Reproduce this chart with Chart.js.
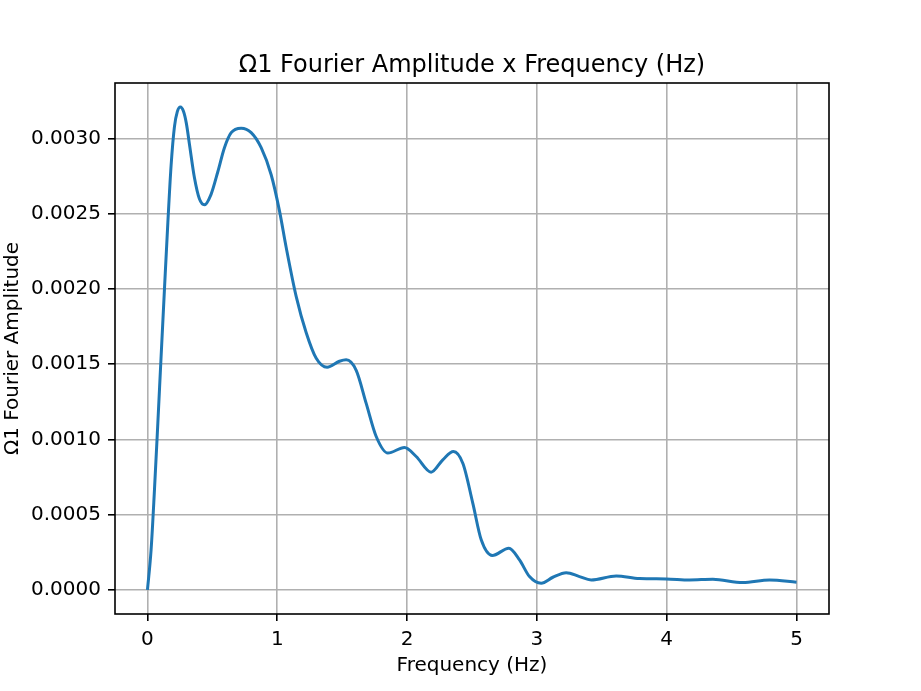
<!DOCTYPE html>
<html>
<head>
<meta charset="utf-8">
<script src="https://cdn.jsdelivr.net/npm/chart.js@4"></script>
<style>
  html, body { margin: 0; padding: 0; background: #fff; }
  #wrap { width: 921px; height: 691px; }
</style>
</head>
<body>
<div id="wrap"><canvas id="myChart" width="921" height="691"></canvas></div>
<script>
// frequency (Hz) and amplitude
const freqs = [0, 0.028, 0.054, 0.08, 0.105, 0.131, 0.157, 0.182, 0.208, 0.23, 0.254, 0.278, 0.3, 0.324,
  0.362, 0.4, 0.439, 0.49, 0.542, 0.593, 0.645, 0.722, 0.799, 0.876, 0.953, 1.017, 1.068, 1.146, 1.223,
  1.3, 1.384, 1.479, 1.531, 1.608, 1.685, 1.762, 1.852, 1.98, 2.07, 2.185, 2.275, 2.357, 2.43, 2.506,
  2.571, 2.656, 2.784, 2.866, 2.943, 3.033, 3.123, 3.226, 3.328, 3.418, 3.611, 3.79, 3.996, 4.176,
  4.355, 4.586, 4.792, 5.0]
const amps = [0, 0.000266, 0.000665, 0.00111, 0.00155, 0.002, 0.00244, 0.00282, 0.00308, 0.00318, 0.00321,
  0.00318, 0.0031, 0.00296, 0.00274, 0.0026, 0.00256, 0.00263, 0.00278, 0.00294, 0.00304, 0.00307,
  0.00304, 0.00294, 0.00276, 0.00252, 0.00228, 0.00195, 0.00171, 0.00154, 0.00148, 0.00152, 0.00153,
  0.00146, 0.00124, 0.00102, 0.00091, 0.000947, 0.000887, 0.000783, 0.000865, 0.00092, 0.00084,
  0.000577, 0.000333, 0.000229, 0.000277, 0.0002, 0.0000887, 0.0000443, 0.0000843, 0.000115, 0.0000887,
  0.0000665, 0.0000931, 0.0000753, 0.0000731, 0.0000665, 0.0000709, 0.0000488, 0.0000665, 0.000051]
const xTicks = [0, 1, 2, 3, 4, 5]
const yTicks = [0, 0.0005, 0.001, 0.0015, 0.002, 0.0025, 0.003]
const titleText = 'Ω1 Fourier Amplitude x Frequency (Hz)'

const points = freqs.map((f, i) => ({ x: f, y: amps[i] }))
const font = { family: 'DejaVu Sans', size: 20 }

// matplotlib draws all four spines, and centres the title over the axes
const frame = {
  id: 'frame',
  afterDraw(chart) {
    const a = chart.chartArea
    const c = chart.ctx
    c.save()
    c.strokeStyle = '#000'
    c.lineWidth = 1.6
    c.strokeRect(a.left, a.top, a.right - a.left, a.bottom - a.top)
    c.fillStyle = '#000'
    c.font = '24px "DejaVu Sans"'
    c.textAlign = 'center'
    c.textBaseline = 'alphabetic'
    c.fillText(titleText, (a.left + a.right) / 2, a.top - 11.5)
    c.restore()
  }
}

const ctx = document.getElementById('myChart').getContext('2d')
const chart = new Chart(ctx, {
  type: 'scatter',
  data: {
    datasets: [{
      data: points,
      showLine: true,
      borderColor: '#1f77b4',
      borderWidth: 3,
      pointRadius: 0,
      cubicInterpolationMode: 'monotone'
    }]
  },
  options: {
    responsive: false,
    animation: false,
    layout: { padding: { left: 0, right: 92, top: 83, bottom: 0 } },
    plugins: {
      legend: { display: false },
      tooltip: { enabled: false },
      title: { display: false }
    },
    scales: {
      x: {
        type: 'linear',
        min: -0.25,
        max: 5.25,
        afterFit: s => { s.height = 77 },
        afterBuildTicks: s => { s.ticks = xTicks.map(v => ({ value: v })) },
        ticks: { color: '#000', font, padding: 7, maxRotation: 0, includeBounds: false },
        grid: { color: '#b0b0b0', lineWidth: 1.6, tickColor: '#000', tickLength: 7 },
        border: { display: false },
        title: { display: true, text: 'Frequency (Hz)', color: '#000', font, padding: { top: 0, bottom: 13 } }
      },
      y: {
        min: -0.00016,
        max: 0.00337,
        afterFit: s => { s.width = 115 },
        afterBuildTicks: s => { s.ticks = yTicks.map(v => ({ value: v })) },
        ticks: { color: '#000', font, padding: 7, includeBounds: false, callback: v => v.toFixed(4) },
        grid: { color: '#b0b0b0', lineWidth: 1.6, tickColor: '#000', tickLength: 7 },
        border: { display: false },
        title: { display: true, text: 'Ω1 Fourier Amplitude', color: '#000', font, padding: { top: 1, bottom: 0 } }
      }
    }
  },
  plugins: [frame]
})
</script>
</body>
</html>
